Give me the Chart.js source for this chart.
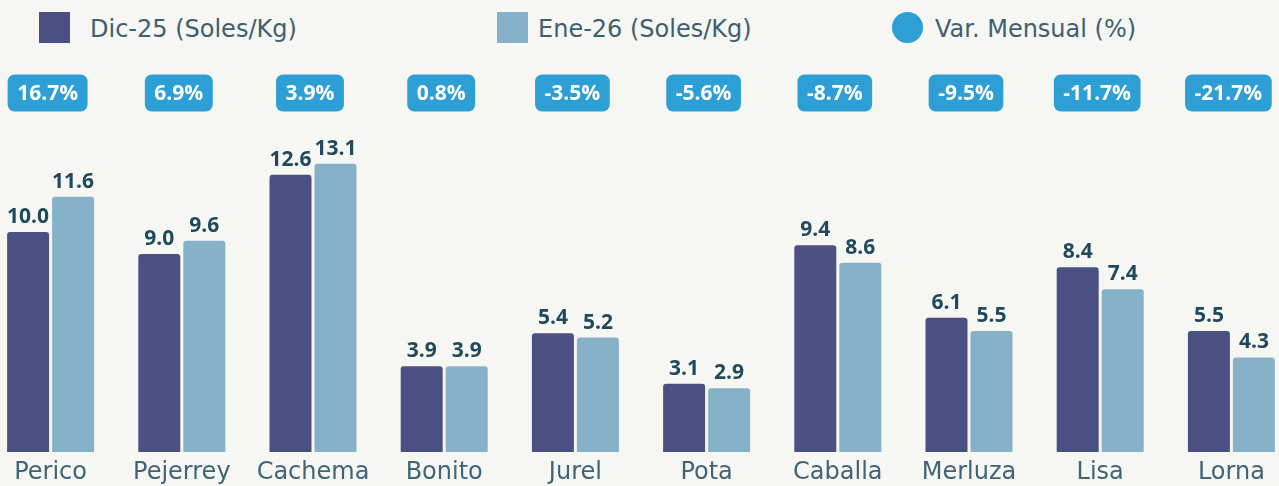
<!DOCTYPE html>
<html>
<head>
<meta charset="utf-8">
<script src="https://cdn.jsdelivr.net/npm/chart.js@4.4.1/dist/chart.umd.min.js"></script>
<style>
  html, body { margin:0; padding:0; background:#f6f6f2; overflow:hidden; }
  body { width:1279px; height:486px; position:relative; font-family:"DejaVu Sans", sans-serif; }
  #wrap { position:absolute; left:-15px; top:0; width:1312px; height:486px; }
  .leg { position:absolute; top:9px; height:36px; display:flex; align-items:center; color:#3e5f72; font-size:24px; white-space:nowrap; }
  .leg span { position:relative; top:2px; }
  .sw { width:31px; height:31px; margin-right:20px; }
  .dot { width:31px; height:31px; border-radius:50%; margin-right:12px; }
</style>
</head>
<body>
<div class="leg" style="left:39px;"><div class="sw" style="background:#4a5182"></div><span>Dic-25 (Soles/Kg)</span></div>
<div class="leg" style="left:497px;"><div class="sw" style="background:#86b2c9;margin-right:10px"></div><span>Ene-26 (Soles/Kg)</span></div>
<div class="leg" style="left:892px;"><div class="dot" style="background:#2e9fd5"></div><span>Var. Mensual (%)</span></div>
<div id="wrap"><canvas id="c" width="1312" height="486"></canvas></div>
<script>
const categories = ["Perico","Pejerrey","Cachema","Bonito","Jurel","Pota","Caballa","Merluza","Lisa","Lorna"];
const dic25 = [10.0, 9.0, 12.6, 3.9, 5.4, 3.1, 9.4, 6.1, 8.4, 5.5];
const ene26 = [11.6, 9.6, 13.1, 3.9, 5.2, 2.9, 8.6, 5.5, 7.4, 4.3];
const varMensual = [16.7, 6.9, 3.9, 0.8, -3.5, -5.6, -8.7, -9.5, -11.7, -21.7];

const labelPlugin = {
  id: 'labels',
  afterDatasetsDraw(chart) {
    const ctx = chart.ctx;
    ctx.save();
    ctx.font = 'bold 21px "Open Sans", sans-serif';
    ctx.fillStyle = '#1f4a5e';
    ctx.textAlign = 'center';
    ctx.textBaseline = 'alphabetic';
    chart.data.datasets.forEach((ds, i) => {
      const meta = chart.getDatasetMeta(i);
      meta.data.forEach((bar, j) => {
        ctx.fillText(ds.data[j].toFixed(1), bar.x, bar.y - 9);
      });
    });
    // badges
    const xs = chart.scales.x;
    ctx.font = 'bold 21px "Open Sans", sans-serif';
    ctx.textBaseline = 'middle';
    varMensual.forEach((v, j) => {
      const cx = xs.getPixelForValue(j) - 3;
      const txt = v.toFixed(1) + '%';
      const w = ctx.measureText(txt).width + 19;
      const h = 37, cy = 93;
      ctx.fillStyle = '#2e9fd5';
      ctx.beginPath();
      ctx.roundRect(cx - w/2, cy - h/2, w, h, 7);
      ctx.fill();
      ctx.fillStyle = '#ffffff';
      ctx.fillText(txt, cx, cy + 1);
    });
    ctx.restore();
  }
};

new Chart(document.getElementById('c'), {
  type: 'bar',
  data: {
    labels: categories,
    datasets: [
      { label: 'Dic-25 (Soles/Kg)', data: dic25, backgroundColor: '#4a5182', borderRadius: {topLeft:3, topRight:3}, borderSkipped: 'bottom' },
      { label: 'Ene-26 (Soles/Kg)', data: ene26, backgroundColor: '#86b2c9', borderRadius: {topLeft:3, topRight:3}, borderSkipped: 'bottom' }
    ]
  },
  options: {
    responsive: false,
    animation: false,
    layout: { padding: 0 },
    datasets: { bar: { categoryPercentage: 0.686, barPercentage: 0.933 } },
    plugins: { legend: { display: false }, tooltip: { enabled: false } },
    scales: {
      x: {
        grid: { display: false, drawTicks: false },
        border: { display: false },
        ticks: { color: '#3f6477', font: { size: 24, family: '"DejaVu Sans", sans-serif' }, padding: 6, maxRotation: 0, autoSkip: false },
        afterFit(scale) { scale.height = 34; }
      },
      y: { display: false, min: 0, max: 452/22 }
    }
  },
  plugins: [labelPlugin]
});
</script>
</body>
</html>
